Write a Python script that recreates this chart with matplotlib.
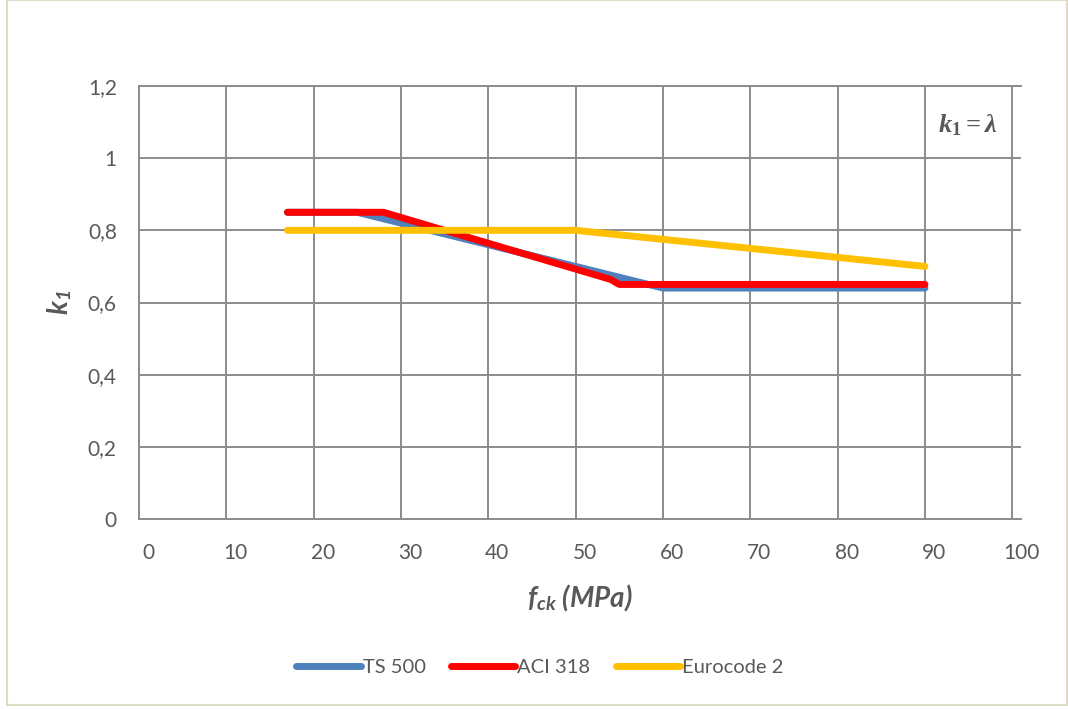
import matplotlib
matplotlib.use('Agg')
import matplotlib.pyplot as plt
import matplotlib.transforms as mtransforms
from matplotlib.patches import Rectangle

# k1 coefficient vs concrete strength for three design codes
fck_ts500 = [17, 20, 25, 30, 35, 40, 45, 50, 55, 60, 70, 80, 90]
k1_ts500 = [0.85, 0.85, 0.85, 0.82, 0.79, 0.76, 0.73, 0.70, 0.67, 0.64, 0.64, 0.64, 0.64]

fck_aci = [17, 28, 54, 55, 60, 70, 80, 90]
k1_aci = [0.85, 0.85, 0.664, 0.65, 0.65, 0.65, 0.65, 0.65]

fck_ec2 = [17, 30, 50, 60, 70, 80, 90]
k1_ec2 = [0.80, 0.80, 0.80, 0.775, 0.75, 0.725, 0.70]

x_ticks = [0, 10, 20, 30, 40, 50, 60, 70, 80, 90, 100]
y_ticks = [0, 0.2, 0.4, 0.6, 0.8, 1.0, 1.2]
y_ticklabels = ['0', '0,2', '0,4', '0,6', '0,8', '1', '1,2']

plt.rcParams['font.family'] = ['Lato', 'DejaVu Sans']
plt.rcParams['mathtext.fontset'] = 'custom'
plt.rcParams['mathtext.bfit'] = 'Lato:italic:bold'
plt.rcParams['mathtext.it'] = 'Liberation Serif:italic:bold'
plt.rcParams['mathtext.rm'] = 'Liberation Serif:bold'

text_col = '#595959'
grid_col = '#8c8c8c'

fig = plt.figure(figsize=(10.68, 7.09), dpi=100)
ax = fig.add_axes([139 / 1068, 1 - 519 / 709, 882 / 1068, 433 / 709])

lw = 5.0
ax.plot(fck_ts500, k1_ts500, color='#4f81bd', lw=lw, label='TS 500',
        solid_capstyle='round', solid_joinstyle='round', zorder=3)
ax.plot(fck_aci, k1_aci, color='#ff0000', lw=lw, label='ACI 318',
        solid_capstyle='round', solid_joinstyle='round', zorder=4)
ax.plot(fck_ec2, k1_ec2, color='#ffc000', lw=lw, label='Eurocode 2',
        solid_capstyle='round', solid_joinstyle='round', zorder=5)

ax.set_xlim(0, 101)
ax.set_ylim(0, 1.2)
ax.set_xticks(x_ticks)
ax.set_yticks(y_ticks)
ax.set_yticklabels(y_ticklabels)
ax.grid(True, color=grid_col, lw=1.4)
ax.set_axisbelow(True)

for side in ['left', 'bottom', 'top']:
    ax.spines[side].set_color(grid_col)
    ax.spines[side].set_linewidth(1.4)
ax.spines['right'].set_visible(False)

ax.tick_params(length=0, labelsize=15, labelcolor=text_col)
ax.tick_params(axis='y', pad=16)
ax.tick_params(axis='x', pad=17)

# Excel puts the category labels a little right of the gridlines
shift = mtransforms.ScaledTranslation(9 / 100, 0, fig.dpi_scale_trans)
for lab in ax.get_xticklabels():
    lab.set_transform(lab.get_transform() + shift)

title_font = dict(fontsize=20, fontweight='bold', fontstyle='italic', color=text_col)
ax.set_xlabel(r'f$_{\mathbfit{ck}}$ (MPa)', **title_font)
ax.set_ylabel(r'k$_{\mathbfit{1}}$', **title_font)
ax.xaxis.set_label_coords(0.5, -0.182)
ax.yaxis.set_label_coords(-0.09, 0.5)
ax.xaxis.label.set_va('center')
ax.yaxis.label.set_va('center')

ax.text(968 / 1068, 1 - 125 / 709, r'$\mathit{k_1 = λ}$', transform=fig.transFigure,
        ha='center', va='center', fontsize=19, color=text_col)

fig.legend(loc='center', bbox_to_anchor=(540 / 1068, 1 - 667 / 709), ncol=3,
           frameon=False, fontsize=14.5, handlelength=3.2, handletextpad=0.1,
           columnspacing=1.25, labelcolor=text_col)

# light chart-area border
fig.patches.append(Rectangle((6.5 / 1068, 4 / 709), 1060 / 1068, 705 / 709,
                             transform=fig.transFigure, fill=False,
                             edgecolor='#dedbc6', lw=1.5))

fig.savefig('out.png', dpi=100)
